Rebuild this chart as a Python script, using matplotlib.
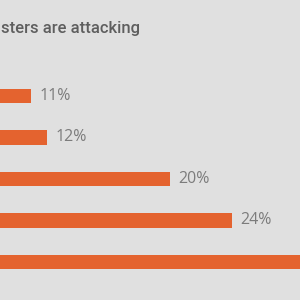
import matplotlib.pyplot as plt

# shares shown in the crop (last bar runs off the right edge, label not visible)
values = [11, 12, 20, 24, 33]
labels = ["11%", "12%", "20%", "24%", ""]
title = "sters are attacking"

bg = "#e0e0e0"
orange = "#e4632f"

fig = plt.figure(figsize=(3, 3), dpi=100, facecolor=bg)

# axis origin lies off-canvas to the left, like the cropped source
px_per_pct = 15.4
x0 = -138
ax = fig.add_axes([x0 / 300, 0, (300 - x0) / 300, 1])
ax.set_facecolor(bg)
ax.set_xlim(0, (300 - x0) / px_per_pct)
ax.set_ylim(4.916, -2.313)

pos = list(range(len(values)))
ax.barh(pos, values, height=0.34, color=orange)
for p, v, t in zip(pos, values, labels):
    ax.text(v + 0.55, p, t, va="center", ha="left", fontsize=11.5,
            color="#7c7c7c", family="Open Sans")

for s in ax.spines.values():
    s.set_visible(False)
ax.set_xticks([])
ax.set_yticks([])

fig.text(1 / 300, 1 - 28 / 300, title, ha="left", va="center",
         fontsize=12, color="#5e5e5e", family="Roboto", fontweight="medium")

fig.savefig("out.png", dpi=100, facecolor=bg)
